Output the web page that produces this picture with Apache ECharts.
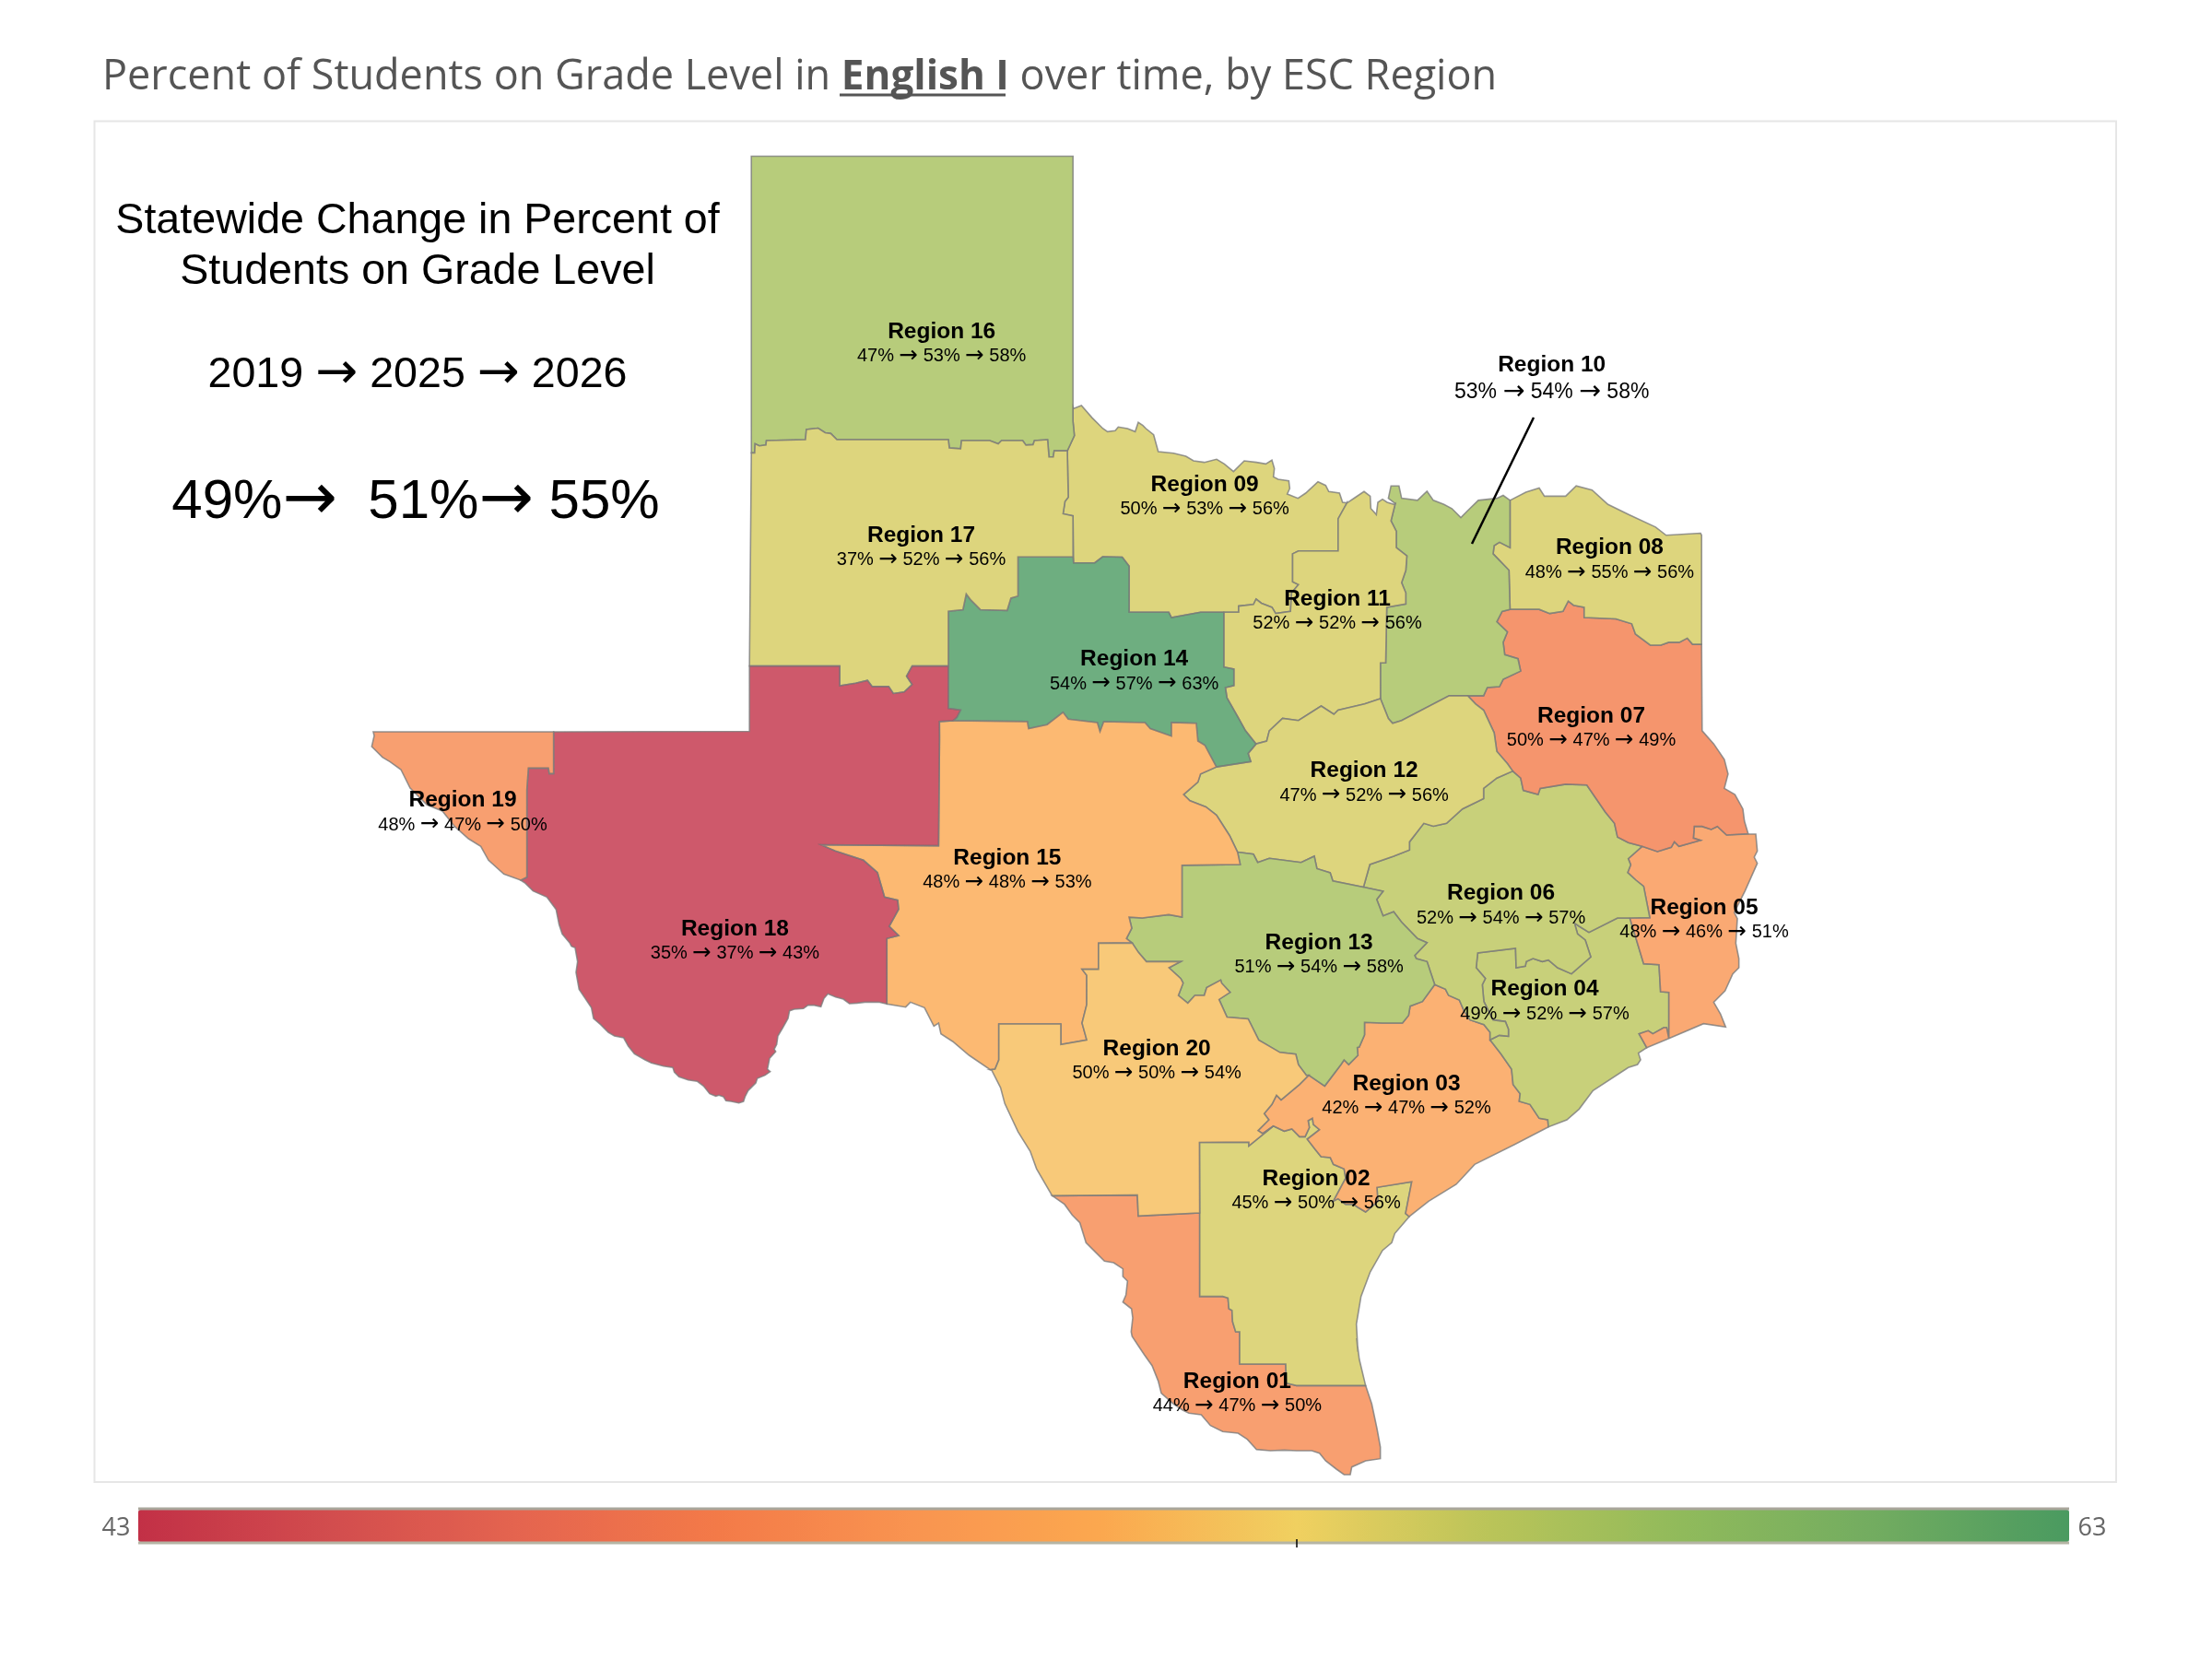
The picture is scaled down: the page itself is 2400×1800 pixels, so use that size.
<!DOCTYPE html>
<html><head><meta charset="utf-8">
<style>html,body{margin:0;padding:0;background:#fff}#c{width:2400px;height:1800px}</style>
<script src="https://cdn.jsdelivr.net/npm/echarts@6/dist/echarts.min.js"></script>
</head><body><div id="c"></div>
<script>
// ---------- data ----------
const regionNames = ['Region 01','Region 02','Region 03','Region 04','Region 05','Region 06','Region 07','Region 08','Region 09','Region 10','Region 11','Region 12','Region 13','Region 14','Region 15','Region 16','Region 17','Region 18','Region 19','Region 20'];
const pct2019 = [44,45,42,49,48,52,50,48,50,53,52,47,51,54,48,47,37,35,48,50];
const pct2025 = [47,50,47,52,46,54,47,55,53,54,52,52,54,57,48,53,52,37,47,50];
const pct2026 = [50,56,52,57,51,57,49,56,56,58,56,56,58,63,53,58,56,43,50,54];
const statewideYears = [2019,2025,2026];
const statewidePct = [49,51,55];
const scaleMin = 43, scaleMax = 63;
const scaleColors = ['#C23046','#D24D4E','#E5654F','#F37A48','#F99450','#FBA84F','#F0D060','#BAC459','#90BA5B','#72AC60','#4A9A60'];

// ---------- map outline (in page pixels) ----------
const crop=(ox,oy,fx,fy)=>pts=>pts.map(([x,y])=>[ox+x/fx,oy+y/fy]);
const Z1=crop(380,140,1.96,2.24),Z2=crop(1050,400,1.742,2.24),Z3=crop(600,800,1.96,3),Z4=crop(1050,1050,1.742,2.613),Z7=crop(390,770,3,3),Z8=crop(1500,880,3,3),Z9=crop(1330,1130,3,3),Z10=crop(620,980,3,3),Z11=crop(1130,1290,3,3),Z12=crop(1160,430,3,3);
const rev=a=>a.slice().reverse();
const a16_17=Z1([[853,787],[860,787],[861,765],[870,770],[884,768],[885,757],[968,755],[970,730],[995,727],[1010,738],[1022,740],[1035,755],[1272,755],[1274,775],[1298,777],[1300,757],[1360,757],[1378,765],[1385,757],[1430,757],[1437,768],[1452,767],[1455,757],[1483,755],[1486,797],[1495,797],[1497,782],[1525,782]]);
const a16_09=Z1([[1525,782],[1532,765],[1540,745],[1537,710],[1537,675]]);
const nw16=Z1([[853,787],[853,66],[1537,66],[1537,675]]);
const a17_18=Z1([[849,1305],[1041,1305],[1041,1353],[1075,1347],[1100,1340],[1110,1355],[1145,1355],[1155,1372],[1178,1368],[1195,1350],[1183,1330],[1195,1305],[1272,1305]]);
const a14_17=Z1([[1272,1305],[1272,1172],[1303,1168],[1310,1130],[1320,1145],[1340,1168],[1397,1170],[1405,1140],[1420,1135],[1420,1040],[1537,1040]]);
const a17_09=Z1([[1525,782],[1527,895],[1520,905],[1516,935],[1537,940],[1537,1040]]);
const n09=Z12([[15,40],[40,30],[75,70],[110,105],[125,115],[150,112],[160,100],[190,105],[215,115],[225,85],[240,95],[250,105],[275,125],[290,180],[340,185],[380,195],[405,210],[440,215],[480,205],[505,220],[535,245],[570,210],[610,215],[640,220],[660,208],[668,235],[665,262],[680,270],[715,275],[718,300],[710,318],[745,332],[770,315],[810,278],[835,290],[845,310],[880,315],[890,345],[905,347]]);
const n11=Z12([[905,347],[930,330],[960,310],[980,325],[982,365],[1000,385],[1005,345],[1020,335],[1035,345],[1058,352]]);
const a09_11=Z2([[717,325],[700,365],[700,443],[625,443],[614,450],[614,518],[625,525],[612,545],[610,590],[582,595],[575,580],[555,570],[545,560],[540,573],[512,577],[512,592],[484,592]]);
const a09_14=Z2([[200,457],[200,472],[240,472],[255,457],[292,458],[305,480],[305,592],[380,592],[385,605],[440,592],[484,592]]);
const a11_14=Z2([[484,592],[484,725],[503,730],[503,770],[487,775],[490,800],[512,850],[525,880],[545,912]]);
const a10_11=Z2([[808,328],[800,370],[810,395],[810,435],[830,455],[828,490],[820,520],[828,545],[828,572],[792,580],[790,715],[780,715],[780,802]]);
const a11_12=Z2([[780,802],[750,815],[700,830],[692,840],[668,820],[625,855],[595,850],[570,880],[565,905],[545,912]]);
const a10_12=Z2([[780,802],[795,850],[803,862],[820,855],[910,795],[945,795]]);
const a07_10=Z2([[945,795],[975,795],[982,775],[1005,773],[1012,755],[1045,735],[1040,705],[1015,695],[1012,665],[1020,640],[1000,615],[1010,590],[1025,585]]);
const a08_10=Z2([[1025,320],[1025,435],[1005,422],[995,430],[993,450],[1023,490],[1025,585]]);
const n10=Z2([[808,328],[795,315],[800,285],[815,285],[820,315],[850,320],[868,298],[880,320],[900,330],[915,340],[932,362],[945,345],[965,320],[1000,315],[1012,308],[1025,320]]);
const n08=Z2([[1025,320],[1055,300],[1080,290],[1090,310],[1130,310],[1150,285],[1180,295],[1210,330],[1250,355],[1300,385],[1320,405],[1385,400],[1387,405],[1387,670]]);
const a07_08=Z2([[1387,670],[1370,670],[1360,655],[1345,665],[1325,665],[1310,672],[1290,672],[1262,645],[1255,620],[1225,608],[1165,605],[1165,580],[1145,575],[1135,565],[1125,590],[1100,595],[1080,585],[1025,585]]);
const e07=Z2([[1387,670],[1388,880],[1410,912],[1430,950],[1437,985],[1430,1020],[1450,1035],[1465,1070],[1468,1100],[1475,1130]]);
const a05_07=Z8([[1190,75],[1120,78],[1090,50],[1070,60],[1040,50],[1015,50],[1012,88],[1035,95],[965,115],[950,100],[940,118],[895,132],[845,115]]);
const a06_07=[...Z8([[845,115],[800,103],[765,85],[755,40],[725,3]]),...Z2([[1170,1012],[1130,1010],[1082,1020],[1078,1035],[1050,1025],[1045,995],[1030,978]])];
const a07_12=Z2([[1030,978],[1020,960],[1000,930],[995,885],[975,830],[960,815],[945,795]]);
const a06_12=Z2([[1030,978],[1000,995],[975,1020],[975,1045],[935,1070],[905,1105],[880,1112],[862,1105],[835,1150],[835,1170],[805,1185],[760,1205],[748,1260]]);
const a12_13=Z2([[510,1175],[540,1180],[548,1200],[570,1190],[630,1200],[655,1185],[660,1215],[685,1225],[690,1245],[748,1260]]);
const a06_13=[...Z2([[748,1260],[785,1270],[773,1290],[785,1330],[805,1320],[820,1345],[850,1385],[868,1395]]),...Z8([[105,470],[110,480],[145,490],[170,565]])];
const a12_14=Z2([[545,912],[530,935],[535,955],[470,968]]);
const a14_18=Z1([[1272,1305],[1272,1408],[1298,1412],[1290,1430],[1282,1438]]);
const a14_15=[...Z1([[1282,1438],[1440,1440]]),...Z2([[115,875],[150,865],[180,835],[190,852],[245,860],[250,882],[257,858],[335,860],[345,875],[385,893],[385,860],[432,862],[435,905],[448,915],[470,968]])];
const a12_15=Z2([[470,968],[440,985],[435,1005],[408,1035],[420,1050],[450,1065],[470,1085],[480,1105],[495,1135],[510,1175]]);
const a13_15=Z2([[510,1175],[515,1205],[405,1207],[405,1333],[380,1327],[330,1335],[305,1333],[310,1360],[300,1385],[310,1395]]);
const a15_20=Z3([[1232,670],[1160,670],[1160,755],[1125,755],[1135,775],[1135,870],[1125,930],[1135,985],[1080,1000],[1080,933],[948,933],[948,1050],[940,1080],[930,1082]]);
const a13_20=[...Z3([[1232,670],[1245,700],[1262,730],[1335,730],[1310,750],[1335,785],[1340,800],[1330,840],[1350,865],[1365,840],[1385,840],[1390,815],[1420,790],[1422,800],[1440,830]]),...Z4([[475,90],[490,140],[530,145],[550,205],[590,240],[620,245],[625,275],[640,305]])];
const a13_03=[...Z8([[170,565],[130,620],[90,635],[85,665],[65,690],[0,690]]),...Z4([[750,155],[750,190],[740,225]]),...Z9([[428,20],[430,45],[400,75],[385,60],[375,75],[322,145],[270,110]])];
const a03_20=Z9([[270,110],[240,140],[180,190],[165,175],[150,205],[125,235],[140,255],[105,290],[120,300],[155,275]]);
const a02_03=Z9([[155,275],[190,292],[215,285],[240,310],[258,310],[272,280],[268,258],[282,250],[285,270],[305,287],[265,318],[290,350],[310,375],[340,378],[350,400],[385,415],[390,445],[350,520],[365,512],[390,530],[415,530],[430,540],[455,555],[495,520],[492,475],[605,457],[585,560],[597,570]]);
const a02_20=[...Z9([[155,275],[75,340],[75,328],[0,328]]),...Z4([[438,495]]),...Z11([[515,78]])];
const a01_20=Z11([[515,78],[315,88],[312,20],[35,22]]);
const a01_02=Z11([[515,78],[515,350],[590,350],[607,355],[610,390],[620,395],[622,432],[632,465],[645,465],[645,570],[795,570],[797,632],[830,640],[1055,640]]);
const g02=[...Z9([[597,570],[550,625],[540,655],[510,680],[470,750],[440,830],[425,920],[430,1010]]),...Z4([[735,1050],[740,1110]]),...Z11([[1055,640]])];
const g01=Z11([[1055,640],[1075,700],[1092,780],[1103,840],[1103,878],[1055,885],[1010,905],[1005,930],[985,930],[960,912],[925,885],[905,860],[880,852],[830,852],[790,850],[745,852],[700,848],[670,815],[640,795],[590,790],[550,770],[520,735],[480,730],[460,720],[430,700],[390,665],[380,625],[360,575],[335,540],[315,510],[295,480],[292,465],[297,420],[293,390],[265,368],[275,345],[280,300],[265,285],[265,260],[235,240],[205,235],[170,200],[145,175],[125,110],[100,85],[75,50],[35,22]]);
const r20=[...Z11([[35,22]]),...Z4([[130,570],[118,520],[95,465],[70,385],[62,340],[45,290]])];
const r15=Z3([[930,1082],[885,1035],[850,990],[825,965],[820,930],[810,940],[790,880],[760,862],[750,878],[710,868]]);
const a15_18=[...Z3([[710,868],[710,655],[735,645],[715,615],[735,560],[733,530],[705,520],[690,440],[660,400],[600,370],[570,350],[820,353],[822,0]]),...Z1([[1253,1440],[1282,1438]])];
const r18=[...Z3([[710,868]]),...Z10([[1000,322],[955,322],[930,325],[905,327],[885,312],[860,305],[835,295],[822,310],[812,337],[790,332],[770,332],[755,343],[725,345],[710,350],[705,375],[688,405],[672,432],[668,460],[660,475],[665,483],[645,505],[638,540],[647,548],[630,560],[605,570],[600,585],[575,610],[565,630],[560,645],[545,650],[520,645],[503,643],[495,630],[480,625],[470,628],[450,620],[430,595],[410,580],[380,575],[350,565],[335,550],[330,535],[300,530],[260,520],[240,510],[205,490],[185,465],[170,438],[140,432],[120,420],[95,395],[72,375],[65,340],[45,310],[25,280],[15,225],[20,190],[12,145],[0,140]]),...Z7([[685,760],[660,730],[650,700],[640,650],[610,610],[565,590],[540,565],[525,555]])];
const a18_19=Z7([[525,555],[545,545],[545,260],[550,190],[615,190],[618,208],[632,208],[632,72]]);
const r19=Z7([[525,555],[470,535],[420,490],[395,445],[355,420],[310,380],[270,330],[220,310],[165,255],[135,195],[100,170],[75,155],[40,120],[48,85],[45,72]]);
const top18=[...Z7([[632,72]]),...Z1([[849,1464]])];
const top19=Z7([[45,72],[632,72]]);
const a05_06=Z8([[845,115],[800,155],[808,175],[798,200],[825,225],[850,245],[870,347],[805,348]]);
const a04_05=Z8([[805,348],[850,497],[900,500],[905,588],[932,590],[932,740],[925,705],[915,705],[880,725],[865,715],[835,725],[860,770]]);
const e05=Z8([[860,770],[932,740],[1045,692],[1117,703],[1100,660],[1078,622],[1115,585],[1140,530],[1160,510],[1160,480],[1150,430],[1155,350],[1145,330],[1180,260],[1200,215],[1220,170],[1210,150],[1220,130],[1215,75],[1190,75]]);
const a04_06=Z8([[805,348],[765,348],[672,395],[640,375],[625,365],[635,400],[660,420],[678,475],[615,530],[570,510],[540,485],[520,490],[490,480],[468,490],[465,505],[435,510],[433,447],[310,462],[305,510],[335,545],[325,565],[330,620],[360,680],[400,685],[410,710],[410,733],[380,730],[350,745]]);
const a03_06=Z8([[170,565],[205,580],[215,600],[250,615],[265,650],[285,680],[330,695],[350,720],[350,745]]);
const a03_04=Z8([[350,745],[385,790],[420,840],[425,890],[448,920],[445,945],[480,955],[510,1000],[538,1005],[540,1028]]);
const g04=Z8([[540,1028],[600,1005],[640,970],[685,910],[800,835],[830,825],[840,810],[833,788],[860,770]]);
const g03=Z8([[540,1028],[430,1085],[300,1150],[240,1215],[150,1270],[88,1320]]);

const rings={
 'Region 01':[a01_02,g01,rev(a01_20)],
 'Region 02':[a02_03,g02,rev(a01_02),rev(a02_20)],
 'Region 03':[a13_03,a03_20,a02_03,rev(g03),rev(a03_04),rev(a03_06)],
 'Region 04':[a04_06,a03_04,g04,rev(a04_05)],
 'Region 05':[a05_06,a04_05,e05,a05_07],
 'Region 06':[a06_07,a06_12,a06_13,a03_06,rev(a04_06),rev(a05_06)],
 'Region 07':[rev(a07_08),e07,a05_07,a06_07,a07_12,a07_10],
 'Region 08':[n08,a07_08,rev(a08_10)],
 'Region 09':[a16_09,n09,a09_11,rev(a09_14),rev(a17_09)],
 'Region 10':[n10,a08_10,rev(a07_10),rev(a10_12),rev(a10_11)],
 'Region 11':[n11,a10_11,a11_12,rev(a11_14),rev(a09_11)],
 'Region 12':[rev(a11_12),a10_12,rev(a07_12),a06_12,rev(a12_13),rev(a12_15),rev(a12_14)],
 'Region 13':[a12_13,a06_13,a13_03,rev(a13_20),rev(a13_15)],
 'Region 14':[a14_17,a09_14,a11_14,a12_14,rev(a14_15),rev(a14_18)],
 'Region 15':[a14_15,a12_15,a13_15,a15_20,r15,a15_18],
 'Region 16':[nw16,rev(a16_09),rev(a16_17)],
 'Region 17':[a16_17,a17_09,rev(a14_17),rev(a17_18)],
 'Region 18':[top18,a17_18,a14_18,rev(a15_18),r18,a18_19],
 'Region 19':[top19,rev(a18_19),r19],
 'Region 20':[a13_20,a03_20,a02_20,a01_20,r20,rev(a15_20)]
};
const features=regionNames.map(n=>{
  const ring=rings[n].flat().map(([x,y])=>[x,-y]); ring.push(ring[0]);
  return {type:'Feature',properties:{name:n},geometry:{type:'Polygon',coordinates:[ring]}};
});
echarts.registerMap('esc',{type:'FeatureCollection',features});
const all=Object.values(rings).flat(2);
const minX=Math.min(...all.map(p=>p[0])),maxX=Math.max(...all.map(p=>p[0])),minY=Math.min(...all.map(p=>p[1])),maxY=Math.max(...all.map(p=>p[1]));

// label anchors, in the page's pixels
const K=2400/1568;
const labelAt=[[877,988],[933,844],[997,777],[1095,710],[1208,652],[1064,642],[1128,516],[1141,397],[854,352],[1100,269],[948,433],[967,555],[935,677],[804,476],[714,617],[667.5,244],[653,388],[521,667],[328,576],[820,752]];

const chart=echarts.init(document.getElementById('c'),null,{renderer:'canvas'});
const ARROW='DejaVu Sans';
chart.setOption({
  animation:false,
  backgroundColor:'#fff',
  title:{left:106,top:57,text:'Percent of Students on Grade Level in {b|English I} over time, by ESC Region',
    textStyle:{fontFamily:'Open Sans',fontSize:45,fontWeight:'normal',color:'#555',
      rich:{b:{fontFamily:'Open Sans',fontSize:44,fontWeight:'bold',color:'#555'}}}},
  geo:{map:'esc',silent:true,aspectScale:1,roam:false,left:minX,top:minY,width:maxX-minX,height:maxY-minY,
    label:{show:false},itemStyle:{areaColor:'#ddd',borderColor:'#7c7c7c',borderWidth:1.6,opacity:.8}},
  visualMap:{type:'continuous',seriesIndex:0,min:scaleMin,max:scaleMax,orient:'horizontal',left:135,top:1623,itemWidth:35,itemHeight:2095,
    calculable:false,realtime:false,hoverLink:false,inRange:{color:scaleColors}},
  series:[
    {type:'map',geoIndex:0,silent:true,data:regionNames.map((n,i)=>({name:n,value:pct2026[i]})),label:{show:false}},
    {type:'scatter',coordinateSystem:'geo',geoIndex:0,silent:true,symbolSize:0,z:5,itemStyle:{opacity:1},
     data:regionNames.map((n,i)=>({name:n,value:[labelAt[i][0]*K,-labelAt[i][1]*K]})),
     label:{show:true,position:'inside',align:'center',verticalAlign:'middle',opacity:1,
       formatter:p=>{const i=p.dataIndex;const s=regionNames[i]==='Region 10'?'c':'b',r=s==='c'?'rc':'r';
         return `{a|${regionNames[i]}}\n{${s}|${pct2019[i]}% }{${r}|→}{${s}| ${pct2025[i]}% }{${r}|→}{${s}| ${pct2026[i]}%}`;},
       rich:{a:{fontFamily:'Liberation Sans',fontWeight:'bold',fontSize:24.5,lineHeight:27,color:'#000'},
             b:{fontFamily:'Liberation Sans',fontSize:20,lineHeight:26,color:'#000'},
             c:{fontFamily:'Liberation Sans',fontSize:23,lineHeight:30,color:'#000'},
             r:{fontFamily:ARROW,fontSize:24.5,lineHeight:26,color:'#000'},
             rc:{fontFamily:ARROW,fontSize:28.5,lineHeight:30,color:'#000'}}}}
  ],
  graphic:[
    {type:'rect',z:-1,shape:{x:102.5,y:131.5,width:2193.5,height:1476.5},style:{fill:'#fff',stroke:'#e6e6e6',lineWidth:2}},
    {type:'line',z:100,shape:{x1:911,y1:103,x2:1091,y2:103},style:{stroke:'#555',lineWidth:3}},
    {type:'text',z:100,x:453,y:240,style:{text:'Statewide Change in Percent of',fontFamily:'Liberation Sans',fontSize:46.6,fill:'#000',align:'center',verticalAlign:'middle'}},
    {type:'text',z:100,x:453,y:295,style:{text:'Students on Grade Level',fontFamily:'Liberation Sans',fontSize:46.6,fill:'#000',align:'center',verticalAlign:'middle'}},
    {type:'text',z:100,x:453,y:407,style:{text:statewideYears[0]+' {r|→} '+statewideYears[1]+' {r|→} '+statewideYears[2],fontFamily:'Liberation Sans',fontSize:46.6,fill:'#000',align:'center',verticalAlign:'middle',rich:{r:{fontFamily:ARROW,fontSize:55,fill:'#000'}}}},
    {type:'text',z:100,x:451,y:545,style:{text:statewidePct[0]+'%{r|→}  '+statewidePct[1]+'%{r|→} '+statewidePct[2]+'%',fontFamily:'Liberation Sans',fontSize:60,fill:'#000',align:'center',verticalAlign:'middle',rich:{r:{fontFamily:ARROW,fontSize:71,fill:'#000'}}}},
    {type:'line',z:100,shape:{x1:1664,y1:453,x2:1597,y2:590},style:{stroke:'#000',lineWidth:2.5}},
    {type:'line',z:100,shape:{x1:150,y1:1637,x2:2245,y2:1637},style:{stroke:'#a9a69b',lineWidth:3}},
    {type:'line',z:100,shape:{x1:150,y1:1674,x2:2245,y2:1674},style:{stroke:'#b5b5a5',lineWidth:3}},
    {type:'line',z:101,shape:{x1:1407,y1:1670,x2:1407,y2:1679},style:{stroke:'#000',lineWidth:1.5}},
    {type:'text',z:100,x:126,y:1658,style:{text:String(scaleMin),fontFamily:'Open Sans',fontSize:27,fill:'#666',align:'center',verticalAlign:'middle'}},
    {type:'text',z:100,x:2270,y:1658,style:{text:String(scaleMax),fontFamily:'Open Sans',fontSize:27,fill:'#666',align:'center',verticalAlign:'middle'}}
  ]
});
</script></body></html>
